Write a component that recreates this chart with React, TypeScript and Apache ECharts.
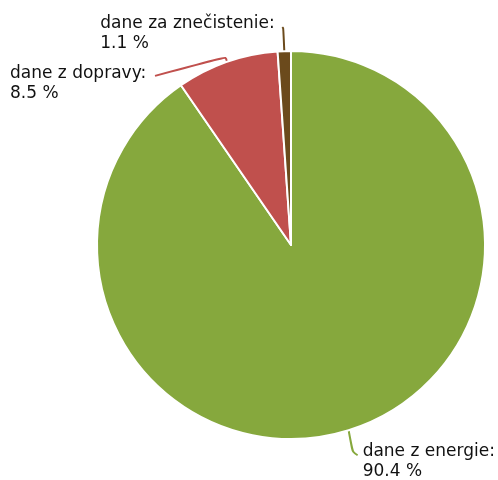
import React, { useEffect, useRef } from "react";
import * as echarts from "echarts";

const categories = ["dane z energie", "dane z dopravy", "dane za znečistenie"];
const values = [90.4, 8.5, 1.1];
const colors = ["#86A83D", "#C0504D", "#6B4A1C"];

// label placement relative to the slice's edge point (layout only)
const labelOffsets = [
  { lx: 14, ly: 30, line: [[4, 22], [9, 25]] },
  { lx: -217, ly: 20, line: [[-1, -5], [-72, 14]] },
  { lx: -184, ly: -19, line: [[-1, -23], [-2, -24]] },
];

export default function App() {
  const ref = useRef<HTMLDivElement>(null);
  useEffect(() => {
    if (!ref.current) return;
    const chart = echarts.init(ref.current, null, { renderer: "svg" });
    chart.setOption({
      animation: false,
      series: [
        {
          type: "pie",
          center: [291, 245],
          radius: 194,
          startAngle: 90,
          clockwise: true,
          avoidLabelOverlap: false,
          itemStyle: { borderColor: "#fff", borderWidth: 2 },
          label: {
            show: true,
            position: "outside",
            formatter: (p: any) => `${p.name}:\n${p.value.toFixed(1)} %`,
            fontFamily: "DejaVu Sans",
            fontSize: 17,
            lineHeight: 20,
            color: "#111",
            align: "left",
          },
          labelLine: { show: true, length: 10, length2: 10, smooth: 0.35, lineStyle: { width: 2 } },
          labelLayout: (params: any) => {
            const o = labelOffsets[params.dataIndex];
            const p0 = params.labelLinePoints ? params.labelLinePoints[0] : [0, 0];
            return {
              x: p0[0] + o.lx,
              y: p0[1] + o.ly,
              align: "left",
              verticalAlign: "middle",
              labelLinePoints: [
                [p0[0], p0[1]],
                [p0[0] + o.line[0][0], p0[1] + o.line[0][1]],
                [p0[0] + o.line[1][0], p0[1] + o.line[1][1]],
              ],
            };
          },
          data: categories.map((name, i) => ({
            name,
            value: values[i],
            itemStyle: { color: colors[i] },
          })),
        },
      ],
    });
    return () => chart.dispose();
  }, []);
  return (
    <div
      ref={ref}
      style={{ position: "fixed", left: 0, top: 0, width: 498, height: 480 }}
    />
  );
}
